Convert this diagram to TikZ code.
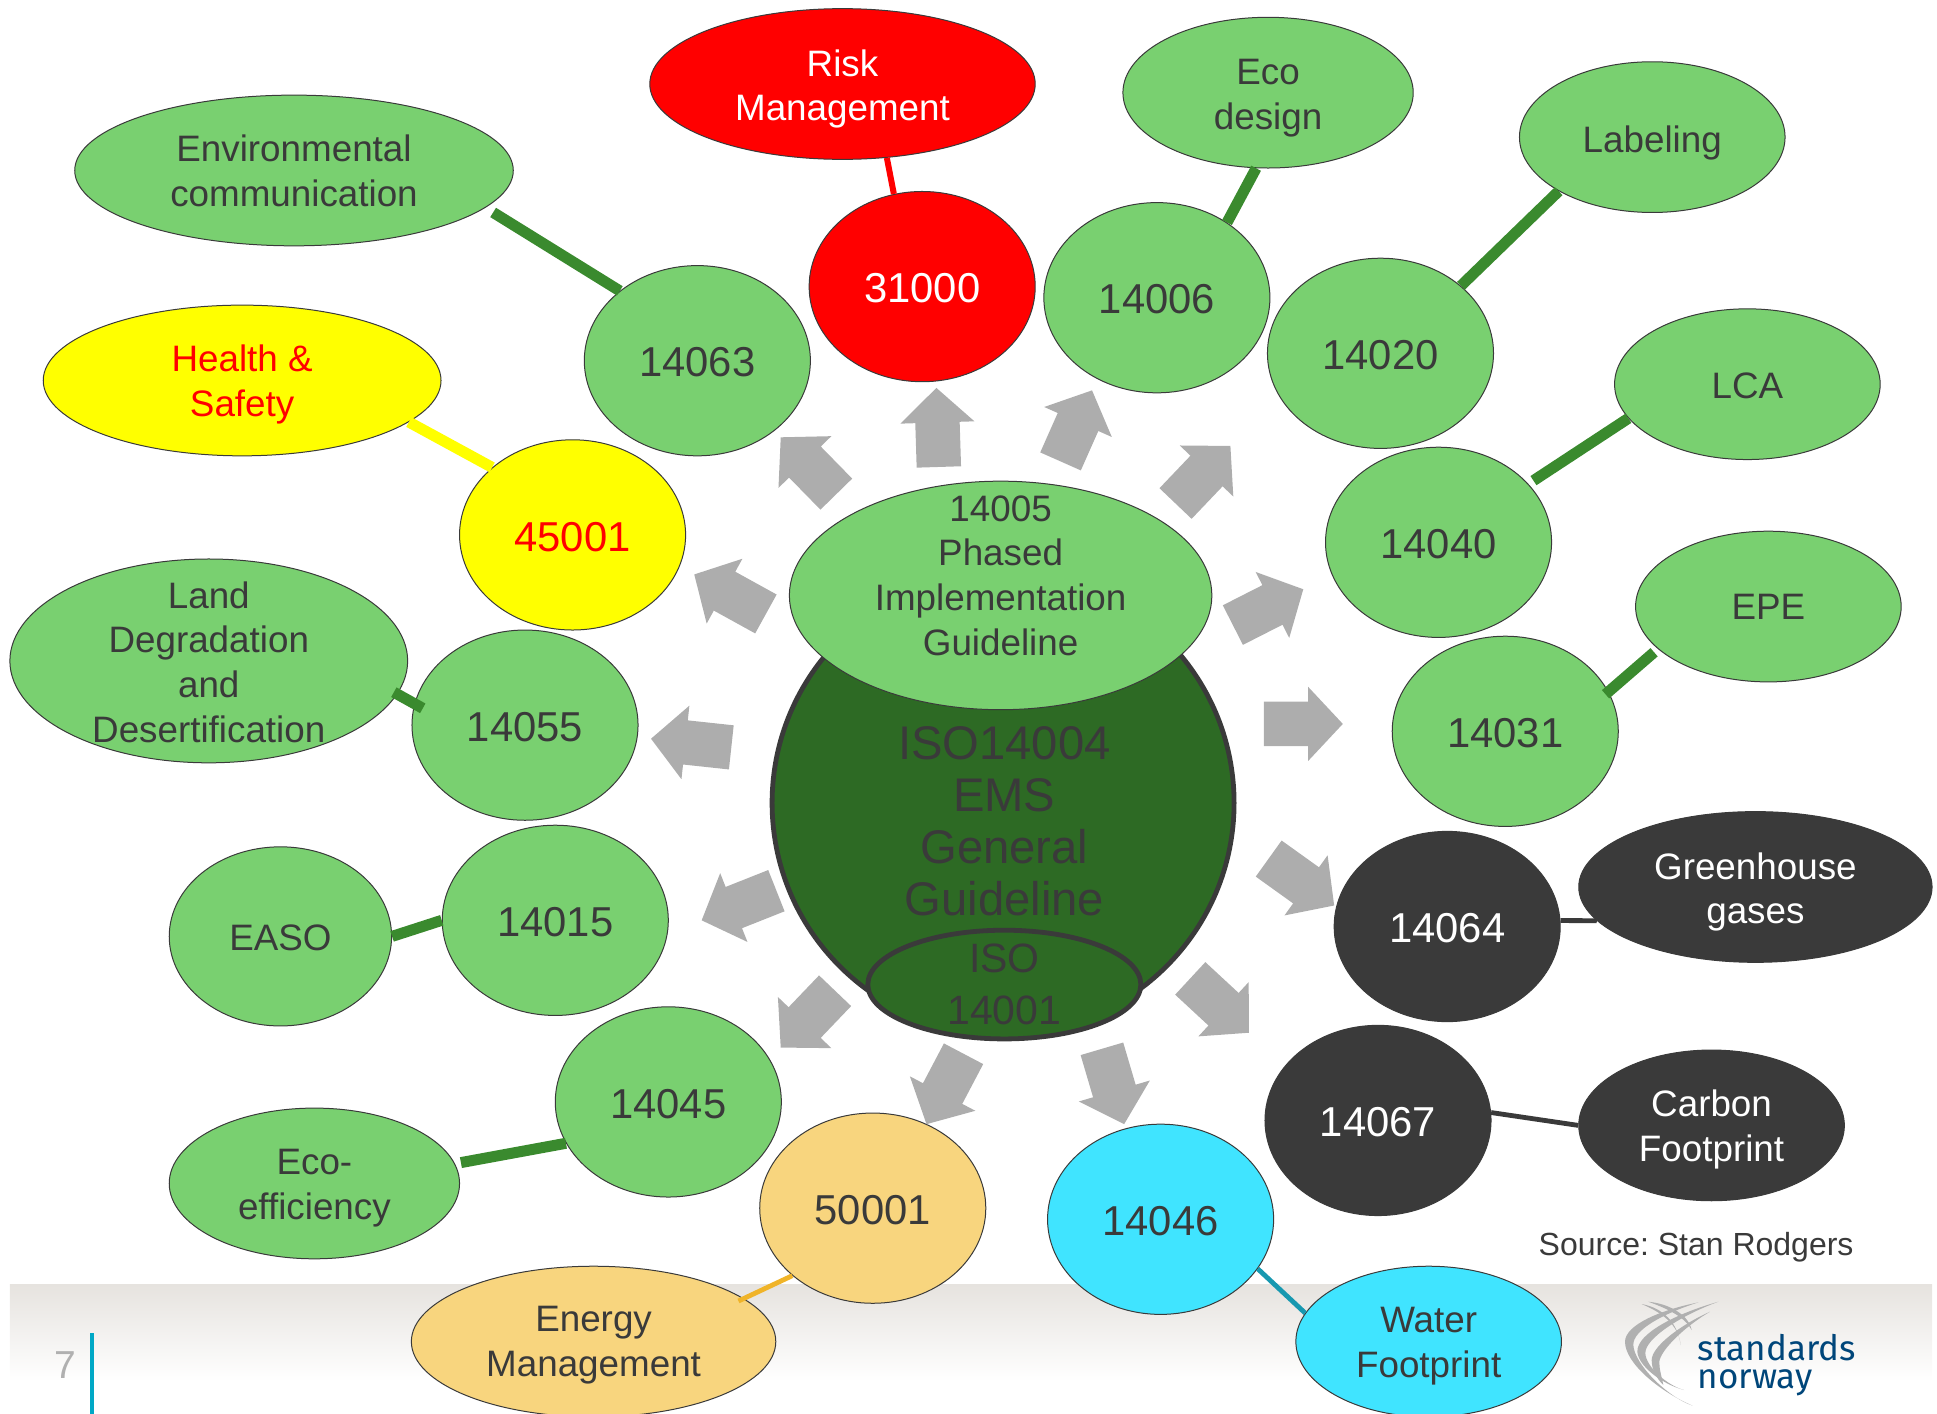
\documentclass[tikz,border=0pt]{standalone}
\usepackage{fontspec}
\setmainfont{Liberation Sans}
\newfontfamily\logofont{Fira Sans}
\usetikzlibrary{shapes.geometric,calc}
\frenchspacing
\definecolor{txt}{HTML}{3A3A3A}
\definecolor{lgreen}{HTML}{79D070}
\definecolor{dgreen}{HTML}{2D6A24}
\definecolor{lineg}{HTML}{3A8A2E}
\definecolor{bandc}{HTML}{E6E3DF}
\definecolor{dark}{HTML}{3A3A3A}
\definecolor{cyanf}{HTML}{40E4FF}
\definecolor{orangef}{HTML}{F8D57E}
\definecolor{arrowg}{HTML}{ADADAD}
\definecolor{tealc}{HTML}{1798B0}
\definecolor{amber}{HTML}{F0B429}
\definecolor{logob}{HTML}{00467A}
\definecolor{logog}{HTML}{B0B0B0}
\definecolor{redf}{RGB}{255,0,0}
\definecolor{yellowf}{RGB}{255,255,0}
\definecolor{pagebar}{HTML}{00A8C6}
\tikzset{
  ell/.style 2 args={ellipse,draw=txt,line width=0.5pt,inner sep=0pt,align=center,text=txt,
    minimum width=#1*0.61767pt,minimum height=#2*0.61767pt},
  lab/.style={font=\fontsize{18.4}{22.4}\selectfont},
  num/.style={font=\fontsize{20.9}{25}\selectfont,text height=16.2pt,text depth=0pt},
  circ/.style={ell={183}{154},num},
  gr/.style={fill=lgreen},
  dk/.style={fill=dark,draw=dark,text=white},
  labtext/.style={align=center,inner sep=0pt,text=txt},
  tl/.style n args={3}{label={[labtext,lab,text=#1,yshift=#2*-0.61767pt]center:{#3}}},
  gline/.style={draw=lineg,line width=5.5pt},
  thinconn/.style={line width=2.4pt},
}
\begin{document}
\begin{tikzpicture}[x=0.61767pt,y=-0.61767pt]
\useasboundingbox (0,0) rectangle (1568,1144.6);
% footer band
\shade[top color=bandc,bottom color=white] (8,1040) rectangle (1564,1118);
\node[font=\fontsize{19.5}{22}\selectfont,text=logog,inner sep=0pt] (page) at (53,1105) {7};
\fill[pagebar] (73,1079) rectangle (76,1145);
% logo
\begin{scope}[shift={(1303.3,1044.3)},x=0.16665pt,y=-0.16665pt]
\fill[logog] (265,37) .. controls (150,60) and (45,105) .. (45,155) .. controls (45,220) and (150,305) .. (248,347) .. controls (170,320) and (72,220) .. (70,165) .. controls (68,120) and (160,70) .. (265,37) -- cycle;
\fill[logog] (325,35) .. controls (200,70) and (80,130) .. (82,185) .. controls (84,225) and (150,280) .. (222,300) .. controls (170,285) and (108,230) .. (106,190) .. controls (104,145) and (215,75) .. (325,35) -- cycle;
\fill[logog] (300,65) .. controls (210,105) and (125,170) .. (125,210) .. controls (125,240) and (140,265) .. (160,285) .. controls (155,260) and (147,235) .. (148,215) .. controls (150,185) and (215,115) .. (300,65) -- cycle;
\fill[logog] (95,42) .. controls (140,50) and (200,80) .. (212,165) .. controls (205,100) and (150,65) .. (95,42) -- cycle;
\fill[logog] (115,35) .. controls (170,40) and (235,70) .. (245,120) .. controls (225,80) and (170,55) .. (115,35) -- cycle;
\end{scope}
\node[font=\logofont\fontsize{17.5}{14.2}\selectfont,text=logob,align=left,inner sep=0pt,anchor=west] (logo) at (1374,1105) {standards\\norway};
% central shapes
\node[ell={374}{374},fill=dgreen,draw=txt,line width=2.4pt] (iso4) at (812,650) {};
\node[labtext,font=\fontsize{23.6}{26}\selectfont] (iso4t) at (813,665) {ISO14004\\EMS\\General\\Guideline};
\node[ell={221}{88},fill=dgreen,draw=txt,line width=2.4pt] (iso1) at (813,797) {};
\node[labtext,font=\fontsize{20.5}{26}\selectfont] (iso1t) at (813,797) {ISO\\14001};
\node[ell={342}{185},gr] (n5) at (810,482) {};
\node[labtext,lab] (n5t) at (810,466) {14005\\Phased\\Implementation\\Guideline};
% outer nodes
\node[circ,dk,fill=redf,draw=txt] (n31000) at (746.5,232) {31000};
\node[ell={312}{122},fill=redf,tl={white}{4}{Risk\\Management}] (risk) at (682,68) {};
\node[circ,gr] (n14006) at (936.5,241) {14006};
\node[ell={235}{122},gr,tl={txt}{4.5}{Eco\\design}] (eco) at (1026.5,75) {};
\node[circ,gr] (n14020) at (1117.5,286) {14020};
\node[ell={215}{122},gr,tl={txt}{5}{Labeling}] (label) at (1337.5,111) {};
\node[circ,gr] (n14040) at (1164.5,439) {14040};
\node[ell={215}{122},gr,tl={txt}{1}{LCA}] (lca) at (1414.5,311) {};
\node[circ,gr] (n14031) at (1218.5,592) {14031};
\node[ell={215}{122},gr,tl={txt}{0}{EPE}] (epe) at (1431.5,491) {};
\node[circ,dk] (n14064) at (1171.5,750) {14064};
\node[ell={286}{122},dk,tl={white}{4}{Greenhouse\\gases}] (ghg) at (1421,718) {};
\node[circ,dk] (n14067) at (1115.5,907) {14067};
\node[ell={215}{122},dk,tl={white}{3}{Carbon\\Footprint}] (carbon) at (1385.5,911) {};
\node[circ,fill=cyanf] (n14046) at (939.5,987) {14046};
\node[ell={215}{122},fill=cyanf,tl={txt}{3.5}{Water\\Footprint}] (water) at (1156.5,1086) {};
\node[circ,gr] (n14015) at (449.5,745) {14015};
\node[circ,gr] (n14045) at (541,892) {14045};
\node[circ,fill=orangef] (n50001) at (706.5,978) {50001};
\node[ell={295}{122},fill=orangef,tl={txt}{3}{Energy\\Management}] (energy) at (480.5,1086) {};
\node[ell={235}{122},gr,tl={txt}{4}{Eco-\\efficiency}] (ecoeff) at (254.5,958) {};
\node[ell={180}{145},gr,tl={txt}{1}{EASO}] (easo) at (227,758) {};
\node[circ,gr] (n14055) at (425,587) {14055};
\node[ell={322}{165},gr,tl={txt}{1}{Land\\Degradation\\and\\Desertification}] (land) at (169,535) {};
\node[circ,gr] (n14063) at (564.5,292) {14063};
\node[circ,fill=yellowf,text=red] (n45001) at (463.5,433) {45001};
\node[ell={322}{122},fill=yellowf,tl={redf}{3.5}{Health \&\\Safety}] (health) at (196,308) {};
\node[ell={355}{122},gr,tl={txt}{0.5}{Environmental\\communication}] (env) at (238,138) {};
% connectors
\draw[gline,shorten <=4.5pt] (env.-11.2) -- (n14063.138.5);
\draw[draw=redf,line width=3pt] (risk.-59.5) -- (n31000.107.7);
\draw[gline] (eco.-99.8) -- (n14006.47.4);
\draw[gline] (label.210.2) -- (n14020.40.2);
\draw[gline,shorten >=3pt] (lca.196) -- (n14040.33);
\draw[gline,shorten <=2.5pt,shorten >=-2pt] (epe.201.7) -- (n14031.21.7);
\draw[draw=dark,thinconn] (ghg.192) -- (n14064.3);
\draw[draw=dark,thinconn] (carbon.180) -- (n14067.4.4);
\draw[draw=tealc,thinconn] (n14046.-27.7) -- (water.167.5);
\draw[draw=amber,thinconn,shorten >=-3pt] (n50001.220.3) -- (energy.16.2);
\draw[gline,shorten >=3pt] (n14045.202.2) -- (ecoeff.8.6);
\draw[gline] (n14015.180) -- (easo.0);
\draw[gline,shorten <=-4.8pt,shorten >=-2pt] (n14055.169.6) -- (land.-10.3);
\draw[draw=yellowf,line width=5.5pt] (n45001.140.2) -- (health.-14.9);
% block arrows
\foreach \i/\ax/\ay/\bx/\by in {
  1/760/378/758/314, 2/858.5/373.5/884/316, 3/951.6/407.6/996/361, 4/998/506/1055/477,
  5/1023/586/1087/586, 6/1027/695/1080/733, 7/963.5/792/1011/836, 8/892/849/910/910,
  9/780/853/750/910, 10/676/802/632/848, 11/628.5/721/568/745, 12/592/605/527/598,
  13/620/497/562/465, 14/677/400/632/354}{
  \coordinate (as\i) at (\ax,\ay);
  \coordinate (ae\i) at (\bx,\by);
  \coordinate (ah\i) at ($(ae\i)!17.3pt!(as\i)$);
  \fill[arrowg] ($(as\i)!11.1pt!90:(ae\i)$) -- ($(ah\i)!11.1pt!-90:(as\i)$) -- ($(ah\i)!18.5pt!-90:(as\i)$)
    -- (ae\i) -- ($(ah\i)!18.5pt!90:(as\i)$) -- ($(ah\i)!11.1pt!90:(as\i)$) -- ($(as\i)!11.1pt!-90:(ae\i)$) -- cycle;
}
\node[labtext,font=\fontsize{16}{19}\selectfont] (source) at (1373,1010) {Source: Stan Rodgers};
\end{tikzpicture}
\end{document}
